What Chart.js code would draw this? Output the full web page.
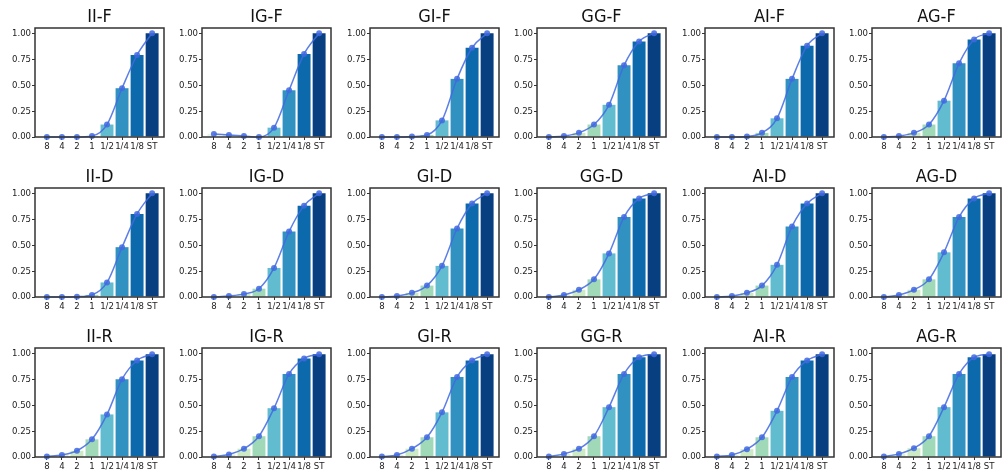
<!DOCTYPE html>
<html>
<head>
<meta charset="utf-8">
<script src="https://cdn.jsdelivr.net/npm/chart.js@4.4.1/dist/chart.umd.min.js"></script>
<style>
  html, body { margin: 0; padding: 0; background: #fff; overflow: hidden; }
  #grid { position: relative; width: 1004px; height: 475px; }
  #grid canvas { position: absolute; }
</style>
</head>
<body>
<div id="grid"></div>
<script>
// ── Data ───────────────────────────────────────────────────────────────────
const xLabels = ['8', '4', '2', '1', '1/2', '1/4', '1/8', 'ST'];
const yTicks  = [0, 0.25, 0.5, 0.75, 1.0];
const barColors = ['#eaf6e5', '#dcf1d7', '#ccebc5', '#9fd9b8', '#62bccf', '#3192c2', '#0c6aac', '#083f80'];

const II_F = [0, 0, 0, 0.01, 0.12, 0.47, 0.79, 1.0];
const IG_F = [0.03, 0.02, 0.01, 0.0, 0.09, 0.45, 0.80, 1.0];
const GI_F = [0, 0, 0.005, 0.02, 0.16, 0.56, 0.86, 1.0];
const GG_F = [0, 0.01, 0.04, 0.12, 0.31, 0.69, 0.92, 1.0];
const AI_F = [0, 0, 0.005, 0.04, 0.18, 0.56, 0.88, 1.0];
const AG_F = [0, 0.01, 0.04, 0.12, 0.35, 0.71, 0.94, 1.0];

const II_D = [0, 0, 0.003, 0.02, 0.14, 0.48, 0.80, 1.0];
const IG_D = [0, 0.01, 0.03, 0.08, 0.28, 0.63, 0.88, 1.0];
const GI_D = [0, 0.01, 0.04, 0.11, 0.30, 0.66, 0.90, 1.0];
const GG_D = [0, 0.02, 0.07, 0.17, 0.42, 0.77, 0.95, 1.0];
const AI_D = [0, 0.01, 0.04, 0.11, 0.31, 0.68, 0.90, 1.0];
const AG_D = [0, 0.02, 0.07, 0.17, 0.43, 0.77, 0.95, 1.0];

const II_R = [0.005, 0.02, 0.06, 0.17, 0.41, 0.75, 0.93, 0.99];
const IG_R = [0.005, 0.025, 0.08, 0.20, 0.47, 0.80, 0.95, 0.99];
const GI_R = [0.005, 0.02, 0.08, 0.19, 0.43, 0.77, 0.93, 0.99];
const GG_R = [0.005, 0.03, 0.08, 0.20, 0.48, 0.80, 0.96, 0.99];
const AI_R = [0.005, 0.02, 0.075, 0.19, 0.445, 0.77, 0.93, 0.99];
const AG_R = [0.005, 0.03, 0.085, 0.20, 0.48, 0.80, 0.96, 0.99];

const panels = [
  ['II-F', II_F], ['IG-F', IG_F], ['GI-F', GI_F], ['GG-F', GG_F], ['AI-F', AI_F], ['AG-F', AG_F],
  ['II-D', II_D], ['IG-D', IG_D], ['GI-D', GI_D], ['GG-D', GG_D], ['AI-D', AI_D], ['AG-D', AG_D],
  ['II-R', II_R], ['IG-R', IG_R], ['GI-R', GI_R], ['GG-R', GG_R], ['AI-R', AI_R], ['AG-R', AG_R],
];

// ── Shared look ────────────────────────────────────────────────────────────
const FONT = '"DejaVu Sans Condensed", "Liberation Sans", sans-serif';
const lineColor = 'rgba(65,105,225,0.85)';

// frame round the plot area + title centred over it
const framePlugin = {
  id: 'frame',
  afterDraw(chart, args, opts) {
    const { ctx, chartArea: a } = chart;
    ctx.save();
    ctx.strokeStyle = '#333';
    ctx.lineWidth = 1.5;
    ctx.strokeRect(a.left, a.top, a.right - a.left, a.bottom - a.top);
    ctx.fillStyle = '#111';
    ctx.font = `18px ${FONT}`;
    ctx.textAlign = 'center';
    ctx.textBaseline = 'middle';
    ctx.fillText(opts.text, (a.left + a.right) / 2, 17);
    ctx.restore();
  },
};

function makePanel(idx, title, values) {
  const col = idx % 6, row = Math.floor(idx / 6);
  const canvas = document.createElement('canvas');
  canvas.width = 168;
  canvas.height = 158;
  canvas.style.left = Math.round(col * 167.4) + 'px';
  canvas.style.top  = row * 160 + 'px';
  document.getElementById('grid').appendChild(canvas);

  const pts = values.map((v, i) => ({ x: i, y: v }));

  new Chart(canvas.getContext('2d'), {
    type: 'bar',
    data: {
      datasets: [
        {
          type: 'line', data: pts, order: 0, clip: false,
          borderColor: lineColor, borderWidth: 1.5,
          pointRadius: 3, pointBackgroundColor: lineColor, pointBorderWidth: 0,
          cubicInterpolationMode: 'monotone',
        },
        {
          type: 'bar', data: pts, order: 1,
          backgroundColor: barColors, borderWidth: 0,
          barPercentage: 0.86, categoryPercentage: 1,
        },
      ],
    },
    options: {
      responsive: false, animation: false,
      layout: { padding: { top: 28, right: 1, left: 0, bottom: 0 } },
      plugins: { legend: { display: false }, tooltip: { enabled: false }, frame: { text: title } },
      scales: {
        x: {
          type: 'linear', min: -0.79, max: 7.79, offset: false,
          afterBuildTicks: s => { s.ticks = xLabels.map((_, i) => ({ value: i })); },
          afterFit: s => { s.height = 21; },
          border: { display: false },
          grid: { offset: false, drawOnChartArea: false, tickLength: 3, color: '#333' },
          ticks: {
            autoSkip: false, maxRotation: 0, padding: 1, color: '#222',
            font: { family: FONT, size: 9.5 },
            callback: v => xLabels[v],
          },
        },
        y: {
          min: 0, max: 1.05,
          afterBuildTicks: s => { s.ticks = yTicks.map(v => ({ value: v })); },
          afterFit: s => { s.width = 35; },
          border: { display: false },
          grid: { drawOnChartArea: false, tickLength: 3, color: '#333' },
          ticks: {
            padding: 1, color: '#222',
            font: { family: FONT, size: 9.5 },
            callback: v => v.toFixed(2),
          },
        },
      },
    },
    plugins: [framePlugin],
  });
}

panels.forEach(([title, values], i) => makePanel(i, title, values));
</script>
</body>
</html>
